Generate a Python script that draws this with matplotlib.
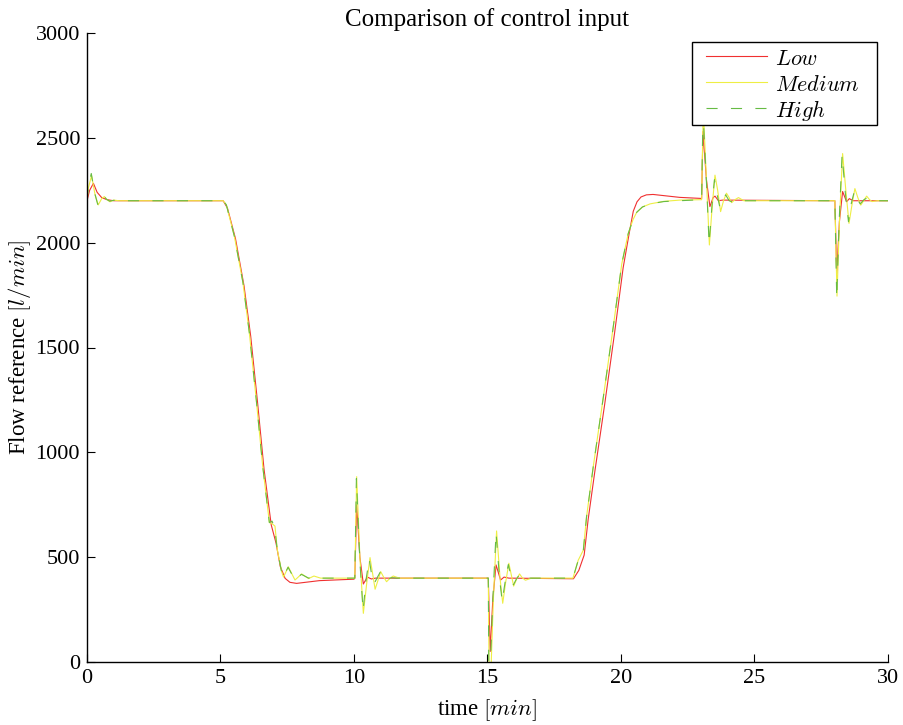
import matplotlib
matplotlib.use("Agg")
import matplotlib.pyplot as plt
from matplotlib.patches import Rectangle

plt.rcParams['font.family'] = ['Liberation Serif', 'DejaVu Serif']
plt.rcParams['mathtext.fontset'] = 'cm'

# Low gain (red)
low_t = [0, 0.1, 0.24, 0.38, 0.55, 0.75, 1.0, 5.1, 5.26, 5.56, 5.88, 6.13, 6.39, 6.63, 6.9,
         7.08, 7.24, 7.42, 7.6, 7.85, 8.7, 10.0, 10.03, 10.1, 10.22, 10.35, 10.5, 10.65, 10.8,
         15.0, 15.03, 15.1, 15.2, 15.32, 15.49, 15.62, 15.8, 18.22, 18.42, 18.62, 18.77, 19.01,
         19.39, 19.76, 20.08, 20.3, 20.46, 20.6, 20.75, 20.95, 21.2, 22.2, 23.0, 23.02, 23.07,
         23.2, 23.33, 23.45, 23.52, 23.65, 23.8, 28.0, 28.01, 28.08, 28.18, 28.3, 28.45, 28.55,
         28.7, 30.0]
low_v = [2200, 2250, 2283, 2240, 2215, 2205, 2200, 2200, 2165, 2020, 1795, 1555, 1235, 920, 654,
         567, 455, 399, 380, 375, 388, 395, 400, 749, 500, 372, 405, 396, 400,
         400, 400, 50, 300, 463, 391, 405, 400, 397, 437, 510, 680, 900,
         1230, 1570, 1880, 2040, 2150, 2195, 2218, 2228, 2230, 2216, 2211, 2211, 2530,
         2300, 2172, 2215, 2222, 2200, 2203, 2200, 2200, 1853, 2100, 2244, 2195, 2210,
         2200, 2200]

# Medium gain (yellow)
med_t = [0, 0.05, 0.17, 0.3, 0.42, 0.55, 0.65, 0.75, 0.86, 1.0, 1.2, 5.1, 5.22, 5.52, 5.84,
         6.08, 6.34, 6.58, 6.83, 6.93, 7.04, 7.13, 7.29, 7.36, 7.54, 7.79, 8.04, 8.3, 8.5, 8.75,
         10.0, 10.03, 10.1, 10.22, 10.35, 10.48, 10.6, 10.7, 10.79, 10.9, 11.0, 11.11, 11.22,
         11.35, 11.47, 11.7, 15.0, 15.03, 15.06, 15.13, 15.22, 15.34, 15.47, 15.57, 15.68, 15.8,
         15.9, 15.98, 16.09, 16.2, 16.3, 16.42, 16.65, 18.2, 18.4, 18.59, 18.71, 18.96, 19.34,
         19.71, 20.03, 20.27, 20.45, 20.59, 20.8, 21.09, 21.6, 22.2, 23.0, 23.02, 23.08, 23.2,
         23.31, 23.42, 23.52, 23.62, 23.73, 23.84, 23.95, 24.05, 24.14, 24.27, 24.4, 24.6, 28.0,
         28.01, 28.09, 28.18, 28.3, 28.42, 28.54, 28.65, 28.76, 28.87, 28.98, 29.09, 29.2, 29.31,
         29.4, 29.6, 30.0]
med_v = [2200, 2260, 2320, 2230, 2180, 2210, 2220, 2205, 2195, 2203, 2200, 2200, 2180, 2030, 1810,
         1570, 1250, 935, 665, 660, 648, 534, 431, 405, 454, 391, 420, 398, 410, 400,
         400, 400, 884, 500, 232, 380, 498, 420, 347, 390, 431, 405, 383,
         400, 410, 400, 400, 400, -60, -40, 300, 625, 400, 280, 380, 471,
         410, 362, 395, 420, 402, 390, 400, 400, 486, 534, 693, 931, 1265,
         1599, 1900, 2043, 2110, 2145, 2170, 2185, 2197, 2203, 2205, 2205, 2640, 2300,
         1989, 2180, 2322, 2250, 2148, 2200, 2236, 2215, 2191, 2205, 2215, 2200, 2200,
         2200, 1745, 2100, 2425, 2250, 2092, 2180, 2258, 2215, 2179, 2200, 2222, 2205,
         2196, 2200, 2200]

# High gain (green, dashed)
high_t = [0, 0.05, 0.16, 0.28, 0.4, 0.5, 0.61, 0.72, 0.85, 1.0, 1.2, 5.1, 5.22, 5.52, 5.84,
          6.08, 6.34, 6.58, 6.83, 6.93, 7.03, 7.12, 7.28, 7.35, 7.53, 7.78, 8.03, 8.3, 8.5, 8.75,
          10.0, 10.03, 10.09, 10.22, 10.34, 10.46, 10.57, 10.68, 10.76, 10.88, 10.98, 11.1, 11.2,
          11.4, 11.6, 15.0, 15.03, 15.05, 15.1, 15.2, 15.32, 15.45, 15.55, 15.67, 15.78, 15.88,
          15.97, 16.08, 16.19, 16.3, 16.4, 16.6, 18.2, 18.4, 18.59, 18.71, 18.96, 19.34, 19.71,
          20.03, 20.27, 20.45, 20.59, 20.8, 21.09, 21.6, 22.2, 23.0, 23.02, 23.07, 23.2, 23.3,
          23.41, 23.5, 23.6, 23.7, 23.82, 23.92, 24.05, 24.15, 24.35, 24.6, 28.0, 28.01, 28.08,
          28.17, 28.28, 28.4, 28.52, 28.63, 28.74, 28.86, 28.96, 29.1, 29.2, 29.4, 30.0]
high_v = [2200, 2270, 2330, 2240, 2183, 2210, 2228, 2208, 2198, 2202, 2200, 2200, 2180, 2030, 1810,
          1570, 1250, 935, 665, 672, 640, 540, 435, 405, 452, 393, 418, 400, 408, 400,
          400, 400, 875, 480, 245, 400, 490, 400, 375, 405, 428, 400, 390,
          402, 400, 400, 400, -60, -40, 300, 617, 400, 290, 390, 465, 410,
          368, 395, 415, 400, 393, 400, 400, 486, 534, 693, 931, 1265, 1599,
          1900, 2043, 2110, 2145, 2170, 2185, 2196, 2200, 2205, 2205, 2620, 2290, 1995,
          2180, 2300, 2230, 2170, 2210, 2228, 2200, 2195, 2205, 2200, 2200, 2200, 1735,
          2100, 2418, 2240, 2100, 2190, 2245, 2205, 2185, 2205, 2212, 2200, 2200]

x_ticks = [0, 5, 10, 15, 20, 25, 30]
y_ticks = [0, 500, 1000, 1500, 2000, 2500, 3000]

fig = plt.figure(figsize=(9.04, 7.25), dpi=100)
ax = fig.add_axes([87 / 904, 63 / 725, 801 / 904, 629 / 725])

ax.plot(low_t, low_v, color='#f03030', lw=0.8, label='$Low$')
ax.plot(med_t, med_v, color='#eeee44', lw=0.8, label='$Medium$')
ax.plot(high_t, high_v, color='#66bb44', lw=0.8, dashes=(10, 12), label='$High$')

ax.set_xlim(0, 30)
ax.set_ylim(0, 3000)
ax.set_xticks(x_ticks)
ax.set_yticks(y_ticks)
ax.tick_params(direction='in', length=5.5, width=0.8, labelsize=16, pad=5)
ax.spines['top'].set_visible(False)
ax.spines['right'].set_visible(False)
for s in ['left', 'bottom']:
    ax.spines[s].set_linewidth(1.0)

ax.set_title('Comparison of control input', fontsize=18, pad=5)
ax.set_xlabel('time $[min]$', fontsize=16.5)
ax.set_ylabel('Flow reference $[l/min]$', fontsize=16.5)
ax.xaxis.set_label_coords(0.5, -(710 - 662) / 629, transform=ax.transAxes)
ax.yaxis.set_label_coords(-(87 - 20) / 801, 0.5, transform=ax.transAxes)
ax.xaxis.label.set_va('center')
ax.yaxis.label.set_va('center')

# legend box drawn as its own frame, entries placed inside it
box = Rectangle((692 / 904, 1 - 125 / 725), 185 / 904, 83 / 725, transform=fig.transFigure,
                facecolor='white', edgecolor='black', lw=1.0, zorder=4.5, clip_on=False)
ax.add_patch(box)
leg = ax.legend(loc='upper left', bbox_to_anchor=(706 / 904, 1 - 46.5 / 725),
                bbox_transform=fig.transFigure, borderaxespad=0, fontsize=16,
                frameon=False, handlelength=2.75, handleheight=1.15,
                handletextpad=0.35, labelspacing=0.1, borderpad=0)

fig.savefig('out.png', dpi=100)
